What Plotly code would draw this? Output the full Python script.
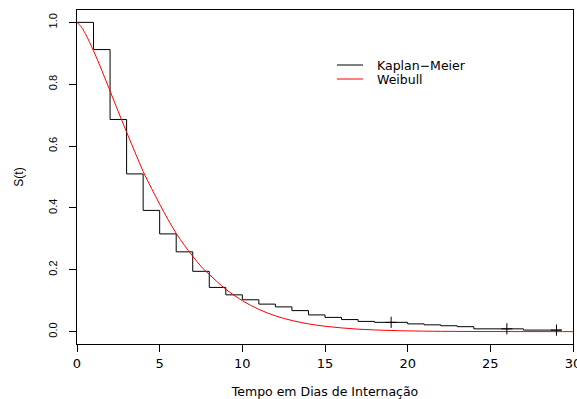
import plotly.graph_objects as go

# Kaplan-Meier estimate (step function)
km_time = [0, 1, 2, 3, 4, 5, 6, 7, 8, 9, 10, 11, 12, 13, 14, 15, 16, 17, 18, 20, 21, 22, 23, 24, 27, 29.3]
km_surv = [1.0, 0.912, 0.686, 0.510, 0.392, 0.316, 0.258, 0.195, 0.143, 0.119, 0.103, 0.089, 0.080,
           0.068, 0.054, 0.046, 0.039, 0.033, 0.030, 0.025, 0.022, 0.019, 0.016, 0.009, 0.005, 0.005]

# censored observations
cens_time = [19, 26, 29]
cens_surv = [0.030, 0.009, 0.005]

# Weibull fitted curve
wb_time = [0, 0.25, 0.5, 1, 1.5, 2, 2.5, 3, 3.5, 4, 4.5, 5, 5.5, 6, 6.5, 7, 7.5, 8, 9, 10, 11, 12, 13,
           14, 15, 16, 17, 18, 19, 20, 22, 24, 26, 28, 30]
wb_surv = [1.0, 0.986, 0.964, 0.908, 0.845, 0.778, 0.711, 0.645, 0.581, 0.518, 0.464, 0.412, 0.363,
           0.318, 0.279, 0.244, 0.211, 0.185, 0.137, 0.100, 0.072, 0.051, 0.036, 0.025, 0.0175,
           0.012, 0.008, 0.0055, 0.0037, 0.0024, 0.001, 0.0004, 0.0002, 0.0001, 0.0]

legend_names = ["Kaplan\u2212Meier", "Weibull"]
legend_colors = ["black", "red"]

x_ticks = [0, 5, 10, 15, 20, 25, 30]
y_ticks = [0.0, 0.2, 0.4, 0.6, 0.8, 1.0]

fig = go.Figure()
fig.add_trace(go.Scatter(x=km_time, y=km_surv, mode="lines", line=dict(color="black", width=1, shape="hv"),
                         name=legend_names[0], showlegend=False))
fig.add_trace(go.Scatter(x=wb_time, y=wb_surv, mode="lines", line=dict(color="red", width=1, shape="spline"),
                         name=legend_names[1], showlegend=False))
fig.add_trace(go.Scatter(x=cens_time, y=cens_surv, mode="markers",
                         marker=dict(symbol="cross-thin", size=8, line=dict(color="black", width=1)),
                         showlegend=False, hoverinfo="skip"))

# manual legend (R style, no box)
leg_x0, leg_x1, leg_tx = 337, 363, 375
leg_y = [65, 79]
W, H = 577, 399
ml, mr, mt, mb = 77, 4, 10, 55
pw, ph = W - ml - mr, H - mt - mb
def px_x(p):
    return (p - ml) / pw
def px_y(p):
    return 1 - (p - mt) / ph
for name, col, yy in zip(legend_names, legend_colors, leg_y):
    fig.add_shape(type="line", xref="paper", yref="paper", x0=px_x(leg_x0), x1=px_x(leg_x1),
                  y0=px_y(yy), y1=px_y(yy), line=dict(color=col, width=1))
    fig.add_annotation(xref="paper", yref="paper", x=px_x(leg_tx), y=px_y(yy), text=name,
                       showarrow=False, xanchor="left", yanchor="middle",
                       font=dict(family="DejaVu Sans", size=12.5, color="black"))

fig.update_layout(
    width=W, height=H, autosize=False,
    margin=dict(l=ml, r=mr, t=mt, b=mb),
    paper_bgcolor="white", plot_bgcolor="white",
    font=dict(family="DejaVu Sans", color="black"),
)
fig.update_xaxes(range=[0, 30], tickvals=x_ticks, ticks="outside", ticklen=7, tickcolor="black",
                 showline=True, linecolor="black", linewidth=1, mirror=True, showgrid=False, zeroline=False,
                 tickfont=dict(family="DejaVu Sans", size=13), ticklabeloverflow="allow", automargin=False,
                 title=dict(text="Tempo em Dias de Interna\u00e7\u00e3o", font=dict(family="DejaVu Sans", size=12.5), standoff=17))
fig.update_yaxes(range=[-0.04, 1.04], tickvals=y_ticks, tickformat=".1f", tickangle=-90, ticks="outside",
                 ticklen=7, tickcolor="black", showline=True, linecolor="black", linewidth=1, mirror=True,
                 showgrid=False, zeroline=False, tickfont=dict(family="Liberation Sans", size=11),
                 ticklabelstandoff=8, automargin=False,
                 title=dict(text="S(t)", font=dict(family="Liberation Sans", size=12), standoff=20))

fig.write_html("out.html", config={"displayModeBar": False},
               post_script="document.body.style.margin='0px';document.body.style.overflow='hidden';")
